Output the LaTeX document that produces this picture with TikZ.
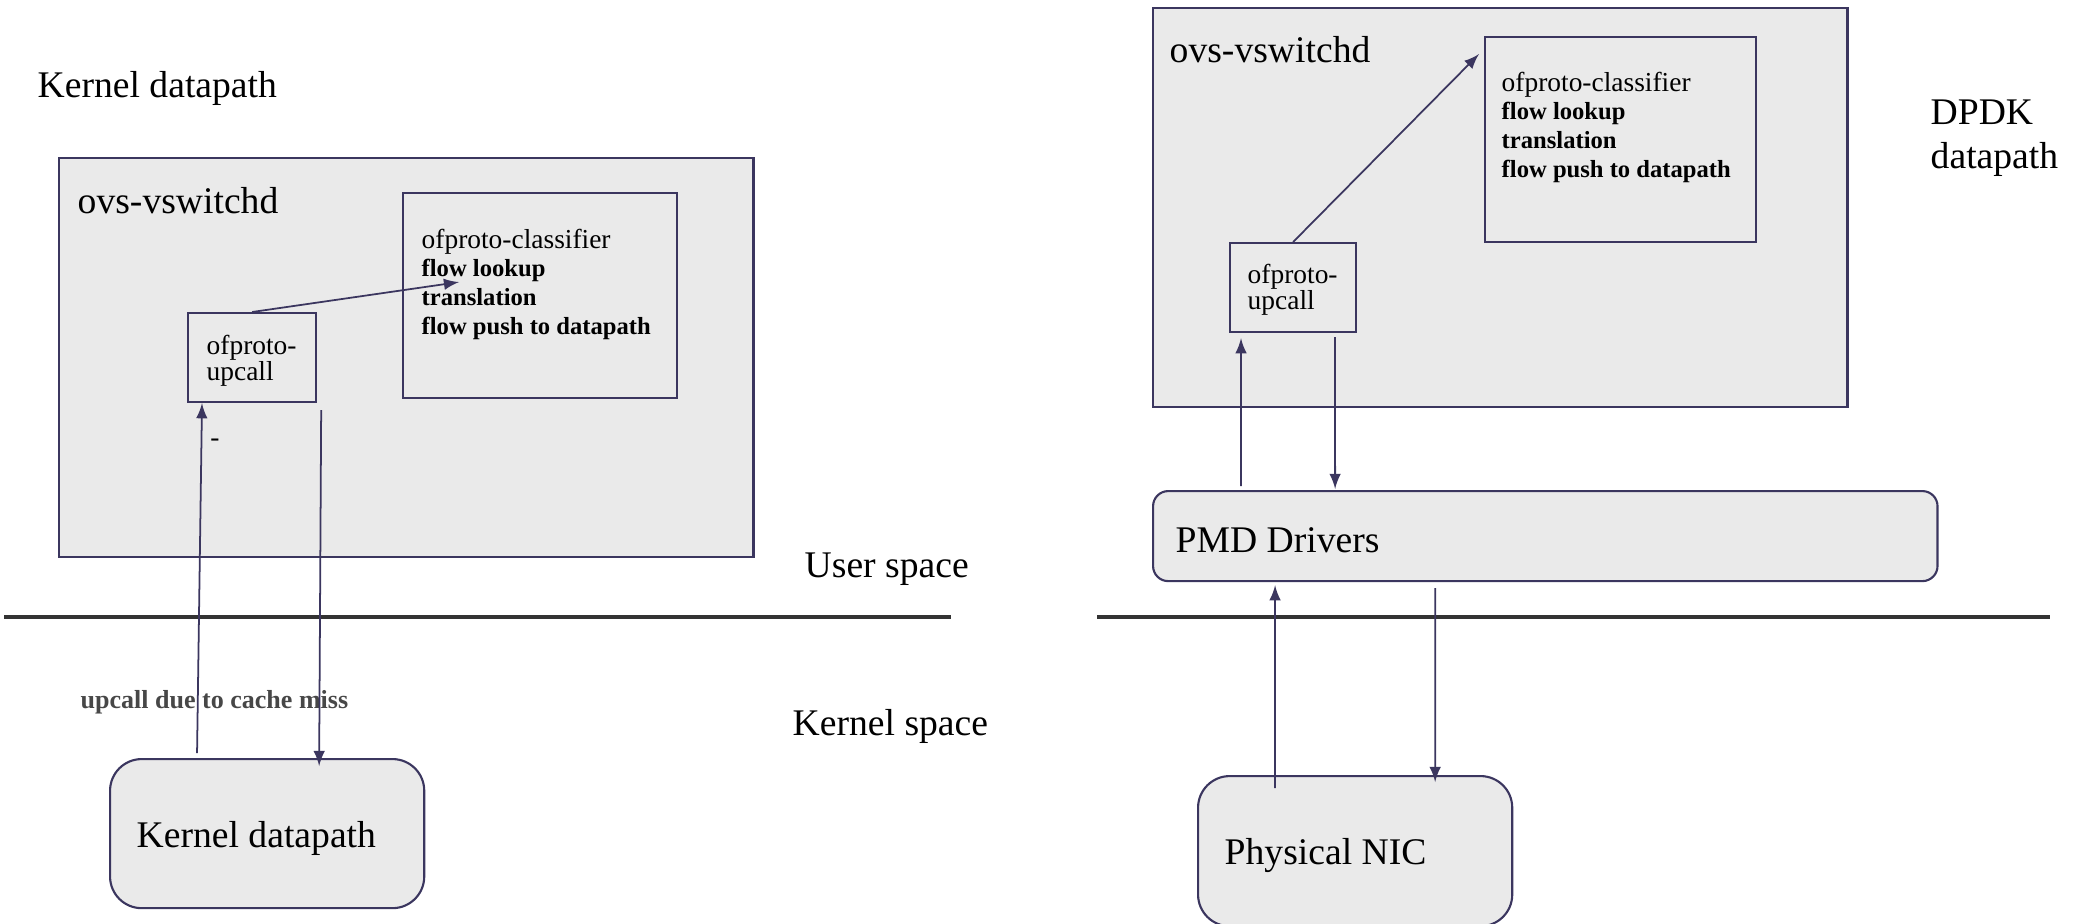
\documentclass[tikz,border=0pt]{standalone}
\usepackage{fontspec}
\setmainfont{Liberation Serif}
\usetikzlibrary{arrows,positioning}
\definecolor{boxline}{HTML}{3B365F}
\definecolor{boxfill}{HTML}{EAEAEA}
\definecolor{splitline}{HTML}{333333}
\definecolor{notegrey}{HTML}{474747}

\begin{document}
\begin{tikzpicture}[x=0.01cm,y=-0.01cm,>=latex,
    frame/.style={draw=boxline,fill=boxfill,line width=0.6pt,inner sep=0pt,anchor=north west},
    roundframe/.style={frame,rounded corners=9pt},
    big/.style={font=\fontsize{10.7}{12.5}\selectfont,anchor=west,inner sep=0pt,align=left},
    small/.style={font=\fontsize{7.8}{8.2}\selectfont,anchor=north west,inner sep=0pt,align=left},
    flow/.style={->,draw=boxline,line width=0.5pt},
    divider/.style={draw=splitline,line width=0.9pt}]

  \useasboundingbox (0,0) rectangle (2073,923);

  % kernel datapath side
  \node[big]   (titleK) at (37,88)   {Kernel datapath};
  \node[frame,minimum width=6.94cm,minimum height=3.99cm] (vsdK) at (58,157)  {};
  \node[big]   (vsdKlbl) at (77,201) {ovs-vswitchd};
  \node[frame,minimum width=2.74cm,minimum height=2.05cm] (clsK) at (402,192) {};
  \node[small] (clsKtxt) at (421,228)
        {ofproto-classifier\\
         {\fontsize{7}{8.2}\selectfont\bfseries flow lookup}\\
         {\fontsize{7}{8.2}\selectfont\bfseries translation}\\
         {\fontsize{7}{8.2}\selectfont\bfseries flow push to datapath}};
  \node[frame,minimum width=1.28cm,minimum height=0.89cm] (upK) at (187,312) {};
  \node[small,font=\fontsize{7.8}{7.6}\selectfont] (upKtxt) at (206,334) {ofproto-\\upcall};
  \node[small,anchor=center] (dashK) at (215,443) {-};
  \node[roundframe,minimum width=3.14cm,minimum height=1.49cm] (dpK) at (109,758) {};
  \node[big]   (dpKlbl) at (136,838) {Kernel datapath};
  \node[big,font=\fontsize{7.4}{8}\selectfont\bfseries,text=notegrey] (missK) at (80,702) {upcall due to cache miss};
  \node[big]   (userK) at (804,569)  {User space};
  \node[big]   (kernK) at (792,726)  {Kernel space};

  \coordinate (splitKl) at (4,617);
  \coordinate (splitKr) at (951,617);
  \draw[divider] (splitKl) -- (splitKr);

  \draw[flow] ([xshift=0.88cm,yshift=0.05cm]dpK.north west) -- ([xshift=0.15cm]upK.south west);
  \draw[flow] ([xshift=0.04cm,yshift=-0.07cm]upK.south east) -- ([xshift=2.1cm,yshift=-0.08cm]dpK.north west);
  \draw[flow] (upK.north) -- ([xshift=0.57cm,yshift=-0.9cm]clsK.north west);

  % dpdk datapath side
  \node[frame,minimum width=6.94cm,minimum height=3.99cm] (vsdD) at (1152,7) {};
  \node[big]   (vsdDlbl) at (1169,50) {ovs-vswitchd};
  \node[frame,minimum width=2.71cm,minimum height=2.05cm] (clsD) at (1484,36) {};
  \node[small] (clsDtxt) at (1501,71)
        {ofproto-classifier\\
         {\fontsize{7}{8.2}\selectfont\bfseries flow lookup}\\
         {\fontsize{7}{8.2}\selectfont\bfseries translation}\\
         {\fontsize{7}{8.2}\selectfont\bfseries flow push to datapath}};
  \node[frame,minimum width=1.26cm,minimum height=0.89cm] (upD) at (1229,242) {};
  \node[small,font=\fontsize{7.8}{7.6}\selectfont] (upDtxt) at (1247,263) {ofproto-\\upcall};
  \node[big,anchor=north west] (titleD) at (1930,99) {DPDK\\datapath};
  \node[roundframe,rounded corners=4.3pt,minimum width=7.84cm,minimum height=0.9cm] (pmd) at (1152,490) {};
  \node[big]   (pmdlbl) at (1175,540) {PMD Drivers};
  \node[roundframe,minimum width=3.14cm,minimum height=1.5cm] (nic) at (1197,775) {};
  \node[big]   (niclbl) at (1224,855) {Physical NIC};

  \coordinate (splitDl) at (1097,617);
  \coordinate (splitDr) at (2050,617);
  \draw[divider] (splitDl) -- (splitDr);

  \draw[flow] (upD.north) -- ([xshift=-0.05cm,yshift=-0.18cm]clsD.north west);
  \draw[flow] ([xshift=0.89cm,yshift=0.04cm]pmd.north west) -- ([xshift=0.12cm,yshift=-0.05cm]upD.south west);
  \draw[flow] ([xshift=1.06cm,yshift=-0.04cm]upD.south west) -- ([xshift=1.83cm,yshift=0.01cm]pmd.north west);
  \draw[flow] ([xshift=0.78cm,yshift=-0.13cm]nic.north west) -- ([xshift=1.23cm,yshift=-0.03cm]pmd.south west);
  \draw[flow] ([xshift=2.83cm,yshift=-0.06cm]pmd.south west) -- ([xshift=2.38cm,yshift=-0.07cm]nic.north west);
\end{tikzpicture}
\end{document}
